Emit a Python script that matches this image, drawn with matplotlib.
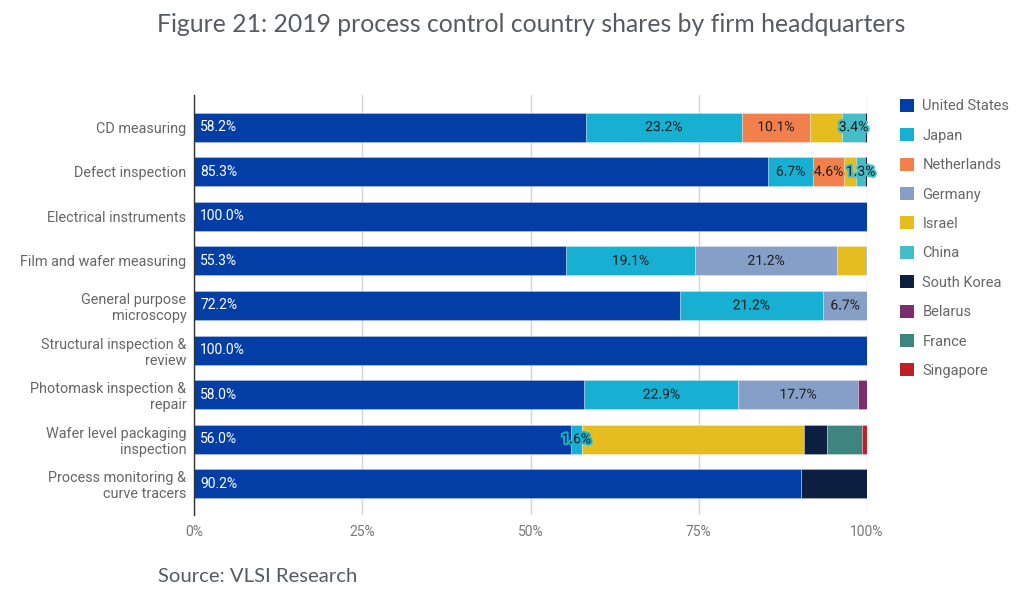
import matplotlib
matplotlib.use("Agg")
import matplotlib.pyplot as plt
import matplotlib.patheffects as pe
from matplotlib.patches import Patch

plt.rcParams['font.family'] = ['Roboto', 'DejaVu Sans']

# ---- data ----
categories = [
    "CD measuring",
    "Defect inspection",
    "Electrical instruments",
    "Film and wafer measuring",
    "General purpose\nmicroscopy",
    "Structural inspection &\nreview",
    "Photomask inspection &\nrepair",
    "Wafer level packaging\ninspection",
    "Process monitoring &\ncurve tracers",
]
countries = ["United States", "Japan", "Netherlands", "Germany", "Israel",
             "China", "South Korea", "Belarus", "France", "Singapore"]

united_states = [58.2, 85.3, 100.0, 55.3, 72.2, 100.0, 58.0, 56.0, 90.2]
japan         = [23.2, 6.7, 0, 19.1, 21.2, 0, 22.9, 1.6, 0]
netherlands   = [10.1, 4.6, 0, 0, 0, 0, 0, 0, 0]
germany       = [0, 0, 0, 21.2, 6.7, 0, 17.7, 0, 0]
israel        = [4.8, 1.8, 0, 4.3, 0, 0, 0, 33.1, 0]
china         = [3.4, 1.3, 0, 0, 0, 0, 0, 0, 0]
south_korea   = [0.3, 0.3, 0, 0, 0, 0, 0, 3.4, 9.8]
belarus       = [0, 0, 0, 0, 0, 0, 1.4, 0, 0]
france        = [0, 0, 0, 0.1, 0, 0, 0, 5.2, 0]
singapore     = [0, 0, 0, 0, 0, 0, 0, 0.7, 0]

series = [united_states, japan, netherlands, germany, israel,
          china, south_korea, belarus, france, singapore]
colors = ["#023ea6", "#17b0d2", "#f2804c", "#869fc6", "#e5bd21",
          "#46bcc8", "#0c1f40", "#7b2e6e", "#3e847f", "#bd2026"]
# only these series carry value labels in the original
labelled = {"United States", "Japan", "Netherlands", "Germany", "China"}

fig = plt.figure(figsize=(10.27, 5.98), dpi=100)
ax = fig.add_axes([194 / 1027, 1 - 515 / 598, 673 / 1027, 420 / 598])

ypos = list(range(len(categories)))
left = [0.0] * len(categories)
for name, vals, col in zip(countries, series, colors):
    ax.barh(ypos, vals, left=left, height=0.65, color=col,
            edgecolor=(1, 1, 1, 0.35), linewidth=0.5, zorder=3)
    if name in labelled:
        for i, v in enumerate(vals):
            if v <= 0:
                continue
            if name == "United States":
                ax.text(left[i] + 0.9, i, f"{v:.1f}%", ha="left", va="center",
                        fontsize=10, color="white", zorder=5)
            else:
                ax.text(left[i] + v / 2, i, f"{v:.1f}%", ha="center",
                        va="center", fontsize=10, color="#1c1c1c", zorder=5,
                        path_effects=[pe.withStroke(linewidth=3,
                                                    foreground=col)])
    left = [l + v for l, v in zip(left, vals)]

ax.set_xlim(0, 100)
ax.set_ylim(len(categories) - 0.3, -0.72)
ax.set_yticks(ypos)
ax.set_yticklabels(categories, fontsize=10.4, color="#666666",
                   multialignment="right")
ax.set_xticks([0, 25, 50, 75, 100])
ax.set_xticklabels(["0%", "25%", "50%", "75%", "100%"], fontsize=10,
                   color="#777777")
ax.tick_params(length=0)
ax.tick_params(axis="y", pad=5.5)
ax.tick_params(axis="x", pad=7.5)
for s in ["top", "right", "bottom"]:
    ax.spines[s].set_visible(False)
ax.spines["left"].set_color("#333333")
ax.spines["left"].set_linewidth(1)
ax.spines["left"].set_zorder(4)
ax.grid(axis="x", color="#d4d4d4", linewidth=1, zorder=0)
ax.set_axisbelow(True)

handles = [Patch(facecolor=c, edgecolor="none") for c in colors]
fig.legend(handles, countries, loc="upper left",
           bbox_to_anchor=(894 / 1027, 1 - 93 / 598), frameon=False,
           fontsize=10.5, labelcolor="#666666", handlelength=1.0,
           handleheight=1.0, handletextpad=0.55, labelspacing=1.02,
           borderaxespad=0)

fig.text(531 / 1027, 1 - 25 / 598,
         "Figure 21: 2019 process control country shares by firm headquarters",
         ha="center", va="center", fontsize=17.8, color="#555b62",
         family=["Lato", "DejaVu Sans"])
fig.text(158 / 1027, 1 - 577 / 598, "Source: VLSI Research", ha="left",
         va="center", fontsize=14.6, color="#555b62",
         family=["Lato", "DejaVu Sans"])

fig.savefig("out.png", dpi=100)
